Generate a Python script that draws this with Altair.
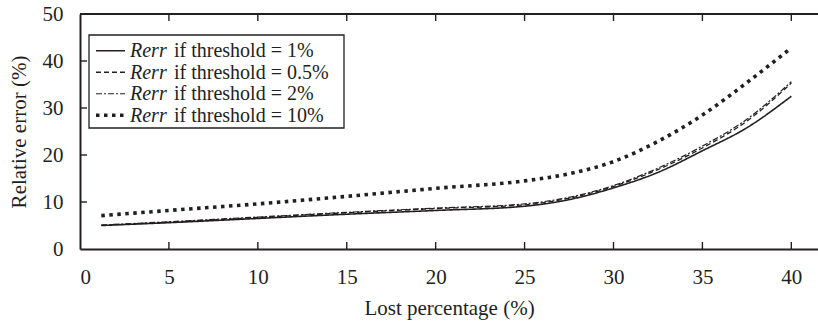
import altair as alt
import pandas as pd

# ---- data ----
lost_pct = [1.2, 5, 10, 15, 20, 25, 27.5, 30, 32.5, 35, 37.5, 40]
rerr_1 = [5.0, 5.6, 6.5, 7.4, 8.2, 9.1, 10.5, 13.0, 16.3, 20.9, 25.8, 32.5]
rerr_05 = [5.05, 5.7, 6.7, 7.7, 8.6, 9.4, 10.8, 13.3, 16.9, 21.5, 27.2, 35.3]
rerr_2 = [5.1, 5.8, 6.8, 7.8, 8.7, 9.6, 11.0, 13.5, 17.2, 21.9, 27.6, 35.6]
rerr_10 = [7.1, 8.2, 9.6, 11.2, 12.9, 14.5, 16.0, 18.6, 22.9, 28.5, 35.4, 42.8]

series_names = ["1%", "0.5%", "2%", "10%"]
series_values = [rerr_1, rerr_05, rerr_2, rerr_10]
x_ticks = [5, 10, 15, 20, 25, 30, 35, 40]
y_ticks = [10, 20, 30, 40]

INK = "#231f20"
FONT = "Liberation Serif"
W, H = 738, 235

styles = {
    "1%": dict(strokeDash=[1, 0], strokeWidth=1.6),
    "0.5%": dict(strokeDash=[5, 3], strokeWidth=1.3),
    "2%": dict(strokeDash=[6, 2, 2, 2], strokeWidth=1.2),
    "10%": dict(strokeDash=[3.5, 4.5], strokeWidth=3.6),
}

rows = []
for name, vals in zip(series_names, series_values):
    for xv, yv in zip(lost_pct, vals):
        rows.append({"series": name, "x": xv, "y": yv})
df = pd.DataFrame(rows)

legend_df = pd.DataFrame({
    "series": series_names,
    "row": list(range(len(series_names))),
    "rest": ["if threshold = " + s for s in series_names],
    "rerr": ["Rerr"] * len(series_names),
})

xscale = alt.Scale(domain=[0, 41.5], nice=False, zero=False)
yscale = alt.Scale(domain=[0, 50], nice=False)
legscale = alt.Scale(domain=[0, 3], range=[43.3, 107.7], nice=False, zero=False)

xaxis = alt.Axis(
    title="Lost percentage (%)", values=[0] + x_ticks, ticks=False, tickSize=0,
    grid=False, domainColor=INK, domainWidth=2, labelFont=FONT, labelFontSize=21,
    labelColor=INK, labelPadding=34, labelBaseline="alphabetic",
    titleFont=FONT, titleFontSize=21, titleFontWeight="normal", titleColor=INK,
    titleY=65, titleBaseline="alphabetic")


def X(field):
    return alt.X(field, scale=xscale, axis=xaxis, title="Lost percentage (%)")


layers = []
first = True
for name in series_names:
    st = styles[name]
    if first:
        yenc = alt.Y("y:Q", scale=yscale, axis=alt.Axis(
            title="Relative error (%)", values=[0, 10, 20, 30, 40, 50], ticks=False, tickSize=0,
            grid=False, domainColor=INK, domainWidth=2, labelFont=FONT, labelFontSize=21,
            labelColor=INK, labelPadding=17,
            titleFont=FONT, titleFontSize=21, titleFontWeight="normal", titleColor=INK,
            titleX=-55, titleBaseline="alphabetic"))
        first = False
    else:
        yenc = alt.Y("y:Q", scale=yscale, axis=None)
    layers.append(
        alt.Chart(df).transform_filter(alt.datum.series == name)
        .mark_line(color=INK, strokeCap="butt", interpolate="monotone", **st)
        .encode(x=X("x:Q"), y=yenc)
    )

# top frame line
frame_df = pd.DataFrame({"k": [0]})
layers.append(alt.Chart(frame_df).mark_rule(color=INK, strokeWidth=2).encode(
    x=alt.value(0), x2=alt.value(W), y=alt.value(0)))

# inward ticks
xt_df = pd.DataFrame({"x": x_ticks})
layers.append(alt.Chart(xt_df).mark_rule(color=INK, strokeWidth=1.4).encode(
    x=X("x:Q"), y=alt.value(H), y2=alt.value(H - 7)))
layers.append(alt.Chart(xt_df).mark_rule(color=INK, strokeWidth=1.4).encode(
    x=X("x:Q"), y=alt.value(0), y2=alt.value(7)))
yt_df = pd.DataFrame({"y": y_ticks})
layers.append(alt.Chart(yt_df).mark_rule(color=INK, strokeWidth=1.4).encode(
    y=alt.Y("y:Q", scale=yscale, axis=None), x=alt.value(0), x2=alt.value(7)))

# legend box
layers.append(alt.Chart(frame_df).mark_rect(fill="white", stroke=INK, strokeWidth=1.3).encode(
    x=alt.value(9), x2=alt.value(264), y=alt.value(21), y2=alt.value(114)))

for name in series_names:
    st = styles[name]
    layers.append(
        alt.Chart(legend_df).transform_filter(alt.datum.series == name)
        .mark_rule(color=INK, strokeCap="butt", yOffset=-6.5, **st)
        .encode(x=alt.value(16), x2=alt.value(45),
                y=alt.Y("row:Q", scale=legscale, axis=None))
    )

layers.append(alt.Chart(legend_df).mark_text(
    font=FONT, fontSize=20, fontStyle="italic", color=INK, align="left", baseline="alphabetic"
).encode(x=alt.value(50), y=alt.Y("row:Q", scale=legscale, axis=None), text="rerr:N"))
layers.append(alt.Chart(legend_df).mark_text(
    font=FONT, fontSize=20, color=INK, align="left", baseline="alphabetic"
).encode(x=alt.value(94), y=alt.Y("row:Q", scale=legscale, axis=None), text="rest:N"))

chart = alt.layer(*layers).resolve_scale(y="independent").properties(
    width=W, height=H,
    padding={"left": 80, "top": 14, "right": 0, "bottom": 75},
    autosize=alt.AutoSizeParams(type="none"),
    background="white",
).configure_view(stroke=None)

chart.save("out.html", embed_options={"renderer": "svg", "actions": False})
